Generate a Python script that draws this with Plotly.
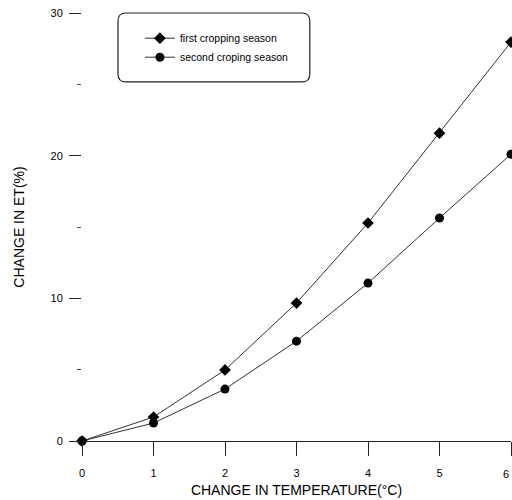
import plotly.graph_objects as go

temp_change = [0, 1, 2, 3, 4, 5, 6]
first_season = [0, 1.68, 4.98, 9.67, 15.28, 21.58, 27.96]
second_season = [0, 1.26, 3.64, 7.0, 11.07, 15.63, 20.1]

fig = go.Figure()
fig.add_trace(go.Scatter(
    x=temp_change, y=first_season, mode="lines+markers",
    name="first cropping season",
    line=dict(color="#333333", width=1),
    marker=dict(symbol="diamond", size=9, color="black"),
    cliponaxis=False,
))
fig.add_trace(go.Scatter(
    x=temp_change, y=second_season, mode="lines+markers",
    name="second croping season",
    line=dict(color="#333333", width=1),
    marker=dict(symbol="circle", size=9, color="black"),
    cliponaxis=False,
))

# rounded legend frame
x0, x1 = 0.0839, 0.531
y0, y1 = 0.839, 1.0
rx, ry = 0.0186, 0.0187
path = (f"M {x0+rx},{y1} L {x1-rx},{y1} Q {x1},{y1} {x1},{y1-ry} "
        f"L {x1},{y0+ry} Q {x1},{y0} {x1-rx},{y0} "
        f"L {x0+rx},{y0} Q {x0},{y0} {x0},{y0+ry} "
        f"L {x0},{y1-ry} Q {x0},{y1} {x0+rx},{y1} Z")
fig.add_shape(type="path", path=path, xref="paper", yref="paper",
              line=dict(color="#222222", width=1.2), fillcolor="white", layer="below")

# last tick label at the right edge
fig.add_annotation(x=temp_change[-1], y=0, xref="x", yref="paper",
                   text=str(temp_change[-1]), showarrow=False,
                   xanchor="right", yanchor="top", yshift=-25, font=dict(size=11))

font = "Liberation Sans, Arial, sans-serif"
fig.update_layout(
    width=512, height=500,
    margin=dict(l=82, r=1, t=13, b=59),
    paper_bgcolor="white", plot_bgcolor="white",
    font=dict(family=font, color="black", size=11),
    showlegend=True,
    legend=dict(x=0.135, y=0.975, xanchor="left", yanchor="top",
                bgcolor="rgba(0,0,0,0)", font=dict(size=10.5, family=font),
                tracegroupgap=2),
    xaxis=dict(range=[0, 6], tickmode="array", tickvals=temp_change,
               showline=True, linecolor="#222222", linewidth=1.2,
               ticks="outside", ticklen=14, tickcolor="#222222", tickwidth=1.2,
               ticklabelstandoff=8, showgrid=False, zeroline=False,
               title=dict(text="CHANGE IN TEMPERATURE(°C)", font=dict(size=14), standoff=6)),
    yaxis=dict(range=[0, 30], tickvals=[0, 10, 20, 30],
               showline=False, ticks="outside", ticklen=12,
               tickcolor="#222222", tickwidth=1.2, ticklabelstandoff=4,
               minor=dict(ticks="outside", ticklen=4, dtick=5, tickcolor="#444444", showgrid=False),
               showgrid=False, zeroline=False,
               title=dict(text="CHANGE IN ET(%)", font=dict(size=14), standoff=22)),
)

fig.write_html("out.html")
